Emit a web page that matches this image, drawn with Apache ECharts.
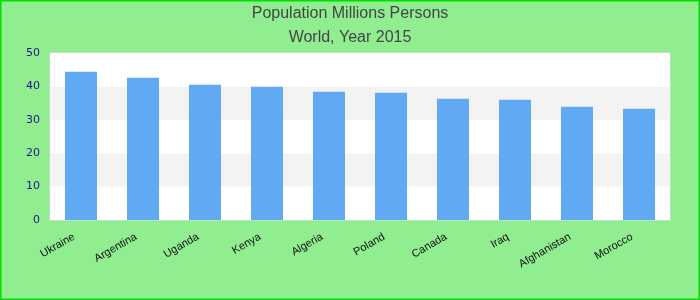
<!DOCTYPE html>
<html><head><meta charset="utf-8">
<script src="https://cdn.jsdelivr.net/npm/echarts@6/dist/echarts.min.js"></script>
<style>html,body{margin:0;padding:0;}#c{width:700px;height:300px;}</style>
</head><body><div id="c"></div>
<script>
const categories = ["Ukraine","Argentina","Uganda","Kenya","Algeria","Poland","Canada","Iraq","Afghanistan","Morocco"];
const values = [44.4, 42.6, 40.5, 39.9, 38.4, 38.1, 36.3, 36.0, 33.9, 33.3];
const titleText = "Population Millions Persons";
const subtitleText = "World, Year 2015";

const chart = echarts.init(document.getElementById('c'), null, {renderer:'canvas'});
chart.setOption({
  backgroundColor: '#90EE90',
  animation: false,
  title: {
    text: titleText, subtext: subtitleText, left: 'center', top: 1, itemGap: 8,
    textStyle: {fontFamily: 'Liberation Sans', fontSize: 16, fontWeight: 'normal', color: '#444'},
    subtextStyle: {fontFamily: 'Liberation Sans', fontSize: 16, color: '#444'}
  },
  grid: {left: 50, right: 30, top: 53, bottom: 80, show: true, borderColor: '#ddd', borderWidth: 1, backgroundColor: '#fff'},
  xAxis: {
    type: 'category', data: categories,
    axisLine: {show: false}, axisTick: {show: false},
    axisLabel: {rotate: 30, margin: 12, padding: [0, 8, 0, 0], color: '#111', fontFamily: 'Liberation Sans', fontSize: 11, interval: 0}
  },
  yAxis: {
    type: 'value', min: 0, max: 50, interval: 10,
    axisLine: {show: false}, axisTick: {show: false},
    splitLine: {show: false},
    splitArea: {show: true, areaStyle: {color: ['#ffffff', '#f3f3f3']}},
    axisLabel: {color: '#1a1a8c', fontFamily: 'DejaVu Sans', fontSize: 11, margin: 10}
  },
  graphic: [{
    type: 'rect', silent: true, z: 100,
    shape: {x: 0.75, y: 0.75, width: 698.5, height: 298.5},
    style: {fill: null, stroke: '#00e000', lineWidth: 1.5}
  }],
  series: [{type: 'bar', data: values, barWidth: 32, itemStyle: {color: '#62a9f4'}}]
});
</script></body></html>
